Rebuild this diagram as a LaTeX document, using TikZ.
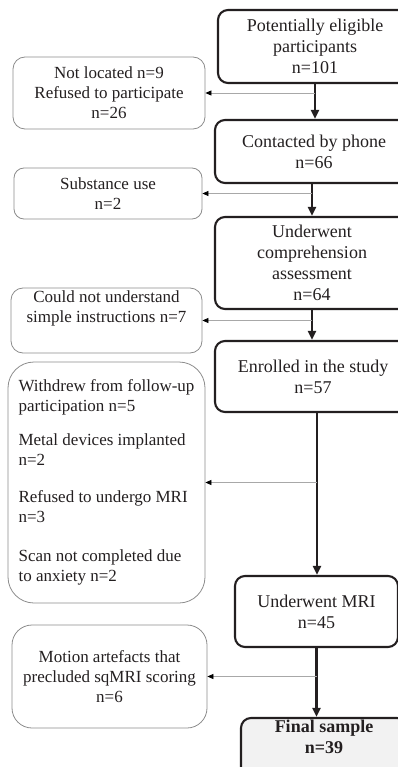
\documentclass[tikz,border=0pt]{standalone}
\usepackage{fontspec}
\setmainfont{Liberation Serif}
\usetikzlibrary{arrows.meta}
\definecolor{dark}{HTML}{231F20}
\definecolor{lgray}{HTML}{8C8C8C}
\definecolor{sgray}{HTML}{A8A8A8}
\definecolor{finalfill}{HTML}{F2F2F2}
\tikzset{
  mainbox/.style={draw=dark, line width=2.1pt, rounded corners=10pt, align=center,
    inner sep=0pt, font=\fontsize{18}{21}\selectfont, text=dark},
  sidebox/.style={draw=lgray, line width=0.8pt, rounded corners=12pt, align=center,
    inner sep=0pt, font=\fontsize{17}{20}\selectfont, text=dark},
  mainarrow/.style={draw=dark, line width=2.8pt, -{Triangle[length=9pt,width=8pt]}},
  sidearrow/.style={draw=sgray, line width=0.8pt, -{Triangle[length=6pt,width=5pt,color=black]}}
}
\begin{document}
\begin{tikzpicture}[x=1pt,y=1pt]
\useasboundingbox (0,0) rectangle (398,-767);
\clip (0,0) rectangle (398,-767);
% main column
\node[mainbox, minimum width=194pt, minimum height=73pt] (b1) at (315,-46.5)
  {Potentially eligible\\participants\\n=101};
\node[mainbox, minimum width=194pt, minimum height=63pt] (b2) at (312,-151.5)
  {\hspace*{4pt}Contacted by phone\\\hspace*{4pt}n=66};
\node[mainbox, minimum width=194pt, minimum height=92pt] (b3) at (312,-263)
  {Underwent\\comprehension\\assessment\\n=64};
\node[mainbox, minimum width=196pt, minimum height=71pt] (b4) at (313,-376.5)
  {Enrolled in the study\\n=57};
\node[mainbox, minimum width=163pt, minimum height=71pt] (b5) at (316.5,-611.5)
  {Underwent MRI\\n=45};
\node[mainbox, fill=finalfill, minimum width=166pt, minimum height=60pt, font=\fontsize{18}{21}\selectfont\bfseries] (b6) at (324,-748)
  {Final sample\\n=39\\[2pt]};
% side column
\node[sidebox, minimum width=192pt, minimum height=72pt] (l1) at (109,-93)
  {Not located n=9\\Refused to participate\\n=26};
\node[sidebox, rounded corners=10pt, minimum width=188pt, minimum height=51pt] (l2) at (108,-193.5)
  {Substance use\\n=2};
\node[sidebox, minimum width=191pt, minimum height=65pt] (l3) at (106.5,-320.5)
  {Could not understand\\simple instructions n=7\\[8pt]};
\node[sidebox, rounded corners=26pt, align=left, minimum width=197pt, minimum height=241pt] (l4) at (106.5,-482.5)
  {Withdrew from follow-up\\participation n=5\\[14pt]Metal devices implanted\\n=2\\[17pt]Refused to undergo MRI\\n=3\\[19pt]Scan not completed due\\to anxiety n=2};
\node[sidebox, rounded corners=20pt, minimum width=195pt, minimum height=103pt] (l5) at (109.5,-676.5)
  {Motion artefacts that\\precluded sqMRI scoring\\n=6};
% main arrows
\draw[mainarrow] (b1.south) -- (b1.south |- b2.north);
\draw[mainarrow] (b2.south) -- (b2.south |- b3.north);
\draw[mainarrow] (b3.south) -- (b3.south |- b4.north);
\draw[mainarrow] ([xshift=4pt]b4.south) -- ([xshift=4pt]b4.south |- b5.north);
\draw[mainarrow] (b5.south) -- (b5.south |- b6.north);
% side arrows
\draw[sidearrow] (b1.south |- l1.east) -- (l1.east);
\draw[sidearrow] (b2.south |- l2.east) -- (l2.east);
\draw[sidearrow] (b3.south |- l3.east) -- (l3.east);
\draw[sidearrow] ([xshift=4pt]b4.south |- l4.east) -- (l4.east);
\draw[sidearrow] (b5.south |- l5.east) -- (l5.east);
\end{tikzpicture}
\end{document}
